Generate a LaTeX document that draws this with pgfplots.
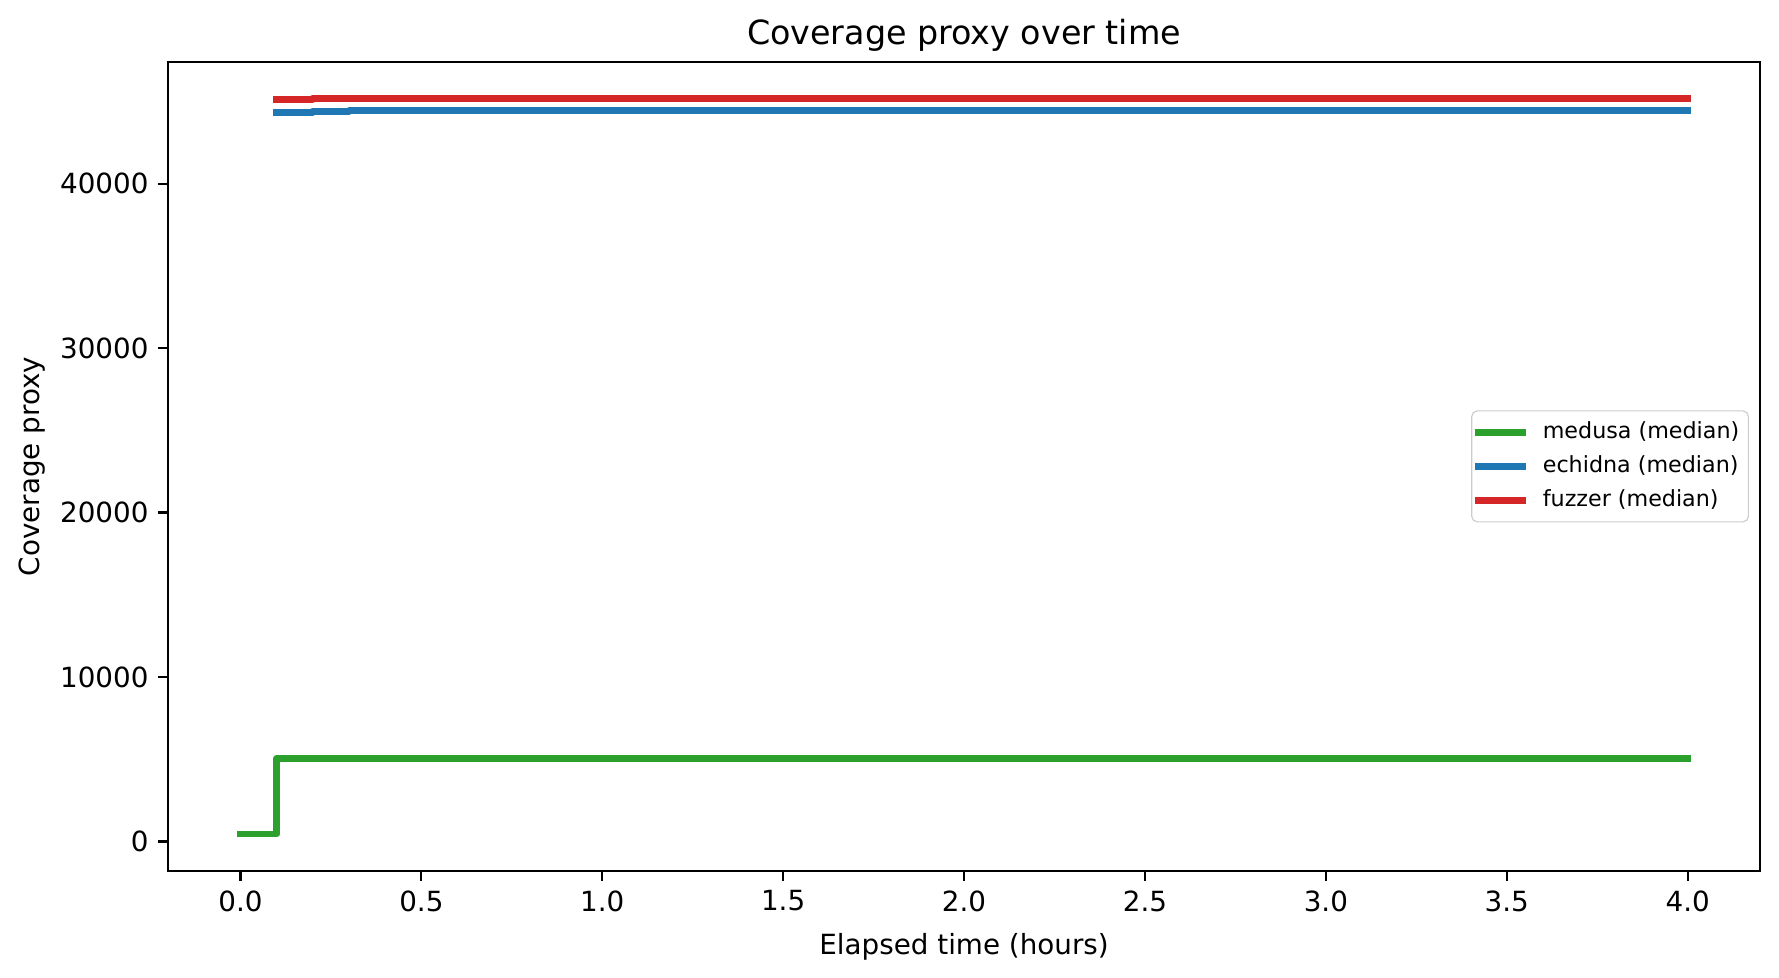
\documentclass[border=0pt]{standalone}
\usepackage{fontspec}
\setmainfont{DejaVu Sans}
\usepackage{pgfplots}
\pgfplotsset{compat=1.18}
\definecolor{mgreen}{HTML}{2CA02C}
\definecolor{mblue}{HTML}{1F77B4}
\definecolor{mred}{HTML}{D62728}
\begin{document}
\begin{tikzpicture}
\path[use as bounding box] (-60.5pt,-38.5pt) rectangle (579.9pt,313.5pt);
\begin{axis}[
  at={(0,0)}, anchor=south west,
  scale only axis, width=573.1pt, height=291.2pt,
  xmin=-0.2, xmax=4.2, ymin=-1790, ymax=47410,
  xtick={0,0.5,...,4}, ytick={0,10000,20000,30000,40000},
  scaled y ticks=false, scaled x ticks=false,
  /pgf/number format/assume math mode=true,
  xticklabel={\pgfmathprintnumber[fixed,fixed zerofill,precision=1]{\tick}},
  yticklabel={\pgfmathprintnumber[fixed,precision=0,1000 sep={}]{\tick}},
  tick align=outside, major tick length=3.5pt,
  tick style={line width=0.8pt, black},
  xtick pos=bottom, ytick pos=left,
  axis line style={line width=0.8pt},
  tick label style={font=\fontsize{10}{12}\selectfont},
  title={Coverage proxy over time},
  title style={at={(axis description cs:0.5,1)}, anchor=base, yshift=0.4pt, font=\fontsize{12}{14}\selectfont},
  xlabel={Elapsed time (hours)},
  xlabel style={at={(axis description cs:0.5,0)}, anchor=base, yshift=-30.2pt, font=\fontsize{10}{12}\selectfont},
  ylabel={Coverage proxy},
  ylabel style={at={(axis description cs:-0.081,0.5)}, rotate=0, anchor=base, font=\fontsize{10}{12}\selectfont},
  legend style={at={(axis description cs:1,0.5)}, anchor=east, xshift=-4pt,
    draw=black!20, fill=white, fill opacity=0.8, text opacity=1, rounded corners=2pt,
    font=\fontsize{8}{9.6}\selectfont, inner xsep=1.3pt, inner ysep=2pt, row sep=0.6pt},
  legend cell align=left,
  legend image code/.code={\draw[#1, line cap=rect] (0pt,0pt) -- (16pt,0pt); \path (19.9pt,0pt);},
]
\addplot[const plot mark left, mgreen, line width=2.4pt, line join=round, line cap=rect] coordinates {(0,450) (0.1,5050) (4,5050)};
\addlegendentry{medusa (median)}
\addplot[const plot mark left, mblue, line width=2.4pt, line join=round, line cap=rect] coordinates {(0.1,44320) (0.2,44380) (0.3,44440) (4,44440)};
\addlegendentry{echidna (median)}
\addplot[const plot mark left, mred, line width=2.4pt, line join=round, line cap=rect] coordinates {(0.1,45125) (0.2,45175) (4,45175)};
\addlegendentry{fuzzer (median)}
\end{axis}
\end{tikzpicture}
\end{document}
